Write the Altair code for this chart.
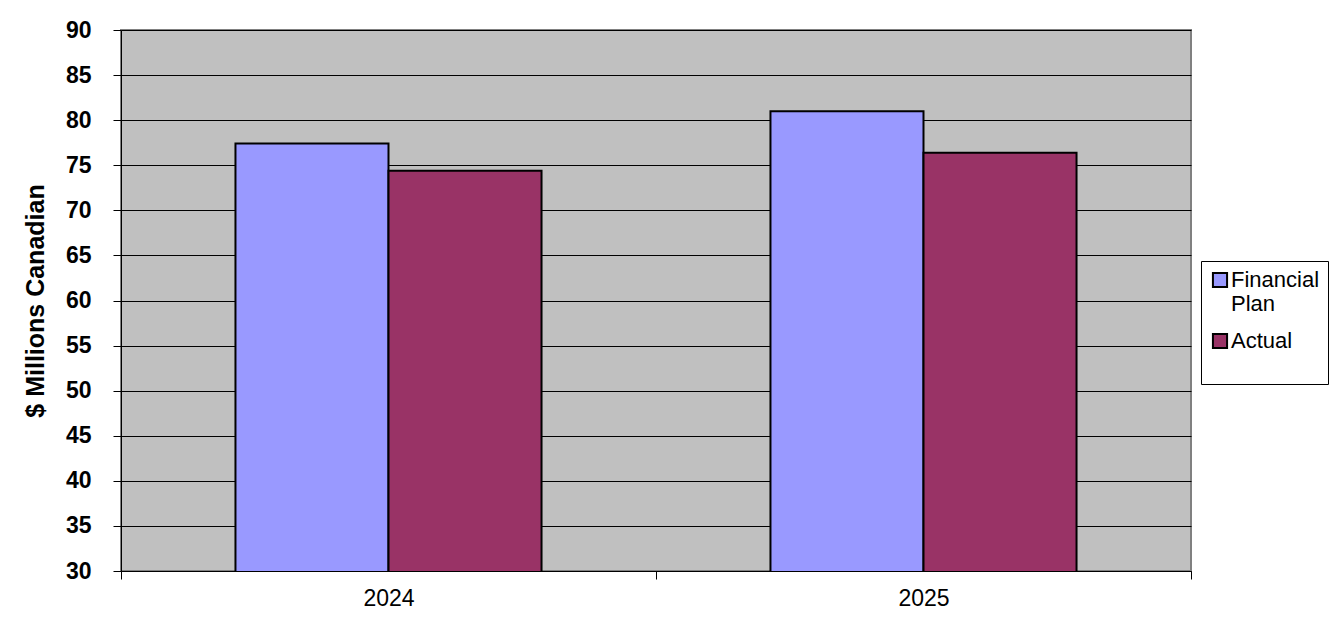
import altair as alt
import pandas as pd

years = ["2024", "2025"]
series = ["Financial Plan", "Actual"]
financial_plan = [77.4, 81.0]
actual = [74.4, 76.4]

rows = []
for i, y in enumerate(years):
    rows.append({"year": y, "series": series[0], "value": financial_plan[i]})
    rows.append({"year": y, "series": series[1], "value": actual[i]})
df = pd.DataFrame(rows)

chart = alt.Chart(df).mark_bar(stroke="black", strokeWidth=2, clip=True).encode(
    x=alt.X("year:N", title=None,
            scale=alt.Scale(paddingInner=0, paddingOuter=0),
            axis=alt.Axis(labelAngle=0, labelFont="Liberation Sans", labelFontSize=23,
                          labelColor="black", labelPadding=8, tickBand="extent",
                          tickColor="black", tickSize=8, domainColor="black",
                          domainWidth=1, grid=False)),
    xOffset=alt.XOffset("series:N", sort=series,
                        scale=alt.Scale(paddingInner=0, paddingOuter=0.748)),
    y=alt.Y("value:Q", title="$ Millions Canadian",
            scale=alt.Scale(domain=[30, 90], nice=False, zero=False),
            axis=alt.Axis(values=list(range(30, 91, 5)), labelFont="Liberation Sans",
                          labelFontSize=23, labelFontWeight="bold", labelColor="black",
                          labelPadding=22, tickColor="black", tickSize=8,
                          domainColor="black", domainWidth=1,
                          grid=True, gridColor="black", gridWidth=1, gridOpacity=1,
                          titleFont="Liberation Sans", titleFontSize=25,
                          titleFontWeight="bold", titleColor="black", titlePadding=17)),
    color=alt.Color("series:N", sort=series,
                    scale=alt.Scale(domain=series, range=["#9999FF", "#993366"]),
                    legend=alt.Legend(title=None, orient="none", legendX=1080, legendY=231,
                                      fillColor="white", strokeColor="black",
                                      padding=8, symbolType="square", symbolSize=200,
                                      symbolStrokeColor="black", symbolStrokeWidth=2,
                                      labelFont="Liberation Sans", labelFontSize=22,
                                      labelColor="black", labelLimit=200,
                                      labelExpr="datum.label == 'Financial Plan' ? ['Financial', 'Plan'] : [datum.label, ' ']",
                                      rowPadding=14, labelOffset=0,
                                      symbolOffset=0)),
).properties(
    width=1070, height=541,
    autosize=alt.AutoSizeParams(type="none"),
    padding={"left": 113, "top": 22, "right": 140, "bottom": 52},
).configure_view(
    fill="#C0C0C0", stroke="#808080", strokeWidth=2
)

chart.save("out.html", embed_options={"renderer": "svg", "actions": False})
